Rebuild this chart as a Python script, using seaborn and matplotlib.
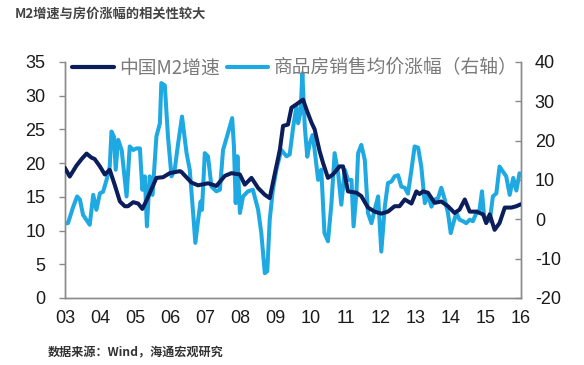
import matplotlib
matplotlib.use("Agg")
import matplotlib.pyplot as plt
import seaborn as sns
import pandas as pd
from matplotlib.lines import Line2D

# ---- data (decimal years) ----
m2_time = [2003.00, 2003.14, 2003.33, 2003.48, 2003.62, 2003.76, 2003.85, 2004.00, 2004.14, 2004.28,
           2004.42, 2004.57, 2004.71, 2004.80, 2004.95, 2005.09, 2005.21, 2005.34, 2005.61, 2005.80,
           2005.99, 2006.28, 2006.32, 2006.61, 2006.80, 2007.08, 2007.32, 2007.56, 2007.75, 2007.99,
           2008.13, 2008.32, 2008.51, 2008.70, 2008.84, 2008.98, 2009.13, 2009.22, 2009.36, 2009.46,
           2009.60, 2009.79, 2009.89, 2010.03, 2010.12, 2010.26, 2010.36, 2010.50, 2010.64, 2010.83,
           2010.93, 2011.07, 2011.31, 2011.45, 2011.64, 2011.83, 2012.02, 2012.21, 2012.40, 2012.54,
           2012.69, 2012.88, 2013.02, 2013.11, 2013.21, 2013.35, 2013.54, 2013.73, 2013.92, 2014.11,
           2014.25, 2014.40, 2014.54, 2014.73, 2014.92, 2015.01, 2015.11, 2015.25, 2015.39, 2015.54,
           2015.73, 2015.87, 2016.00]
m2_growth = [19.3, 18.0, 19.6, 20.6, 21.4, 20.8, 20.6, 19.5, 18.3, 19.0,
             16.8, 14.3, 13.6, 13.6, 14.2, 14.0, 13.2, 14.6, 17.8, 17.9,
             18.5, 18.8, 18.7, 17.1, 16.7, 17.0, 16.6, 18.1, 18.5, 18.3,
             16.8, 17.8, 16.3, 15.3, 14.8, 18.3, 22.0, 25.5, 25.7, 28.2,
             28.7, 29.4, 27.9, 26.0, 25.0, 21.8, 20.0, 17.8, 18.3, 19.5,
             19.5, 15.8, 15.6, 15.1, 13.4, 12.8, 12.5, 12.8, 13.6, 13.6,
             14.6, 14.0, 15.8, 15.4, 15.8, 15.6, 14.1, 14.3, 13.6, 12.6,
             13.1, 14.6, 12.8, 12.8, 12.4, 11.1, 12.4, 10.1, 11.1, 13.4,
             13.4, 13.6, 13.9]

hp_time = [2003.00, 2003.09, 2003.24, 2003.35, 2003.43, 2003.52, 2003.71, 2003.81, 2003.90, 2004.00,
           2004.09, 2004.19, 2004.28, 2004.33, 2004.40, 2004.45, 2004.52, 2004.62, 2004.68, 2004.76,
           2004.85, 2004.95, 2005.04, 2005.14, 2005.21, 2005.28, 2005.34, 2005.42, 2005.50, 2005.61,
           2005.71, 2005.75, 2005.85, 2005.94, 2006.04, 2006.13, 2006.23, 2006.34, 2006.47, 2006.56,
           2006.65, 2006.72, 2006.80, 2006.87, 2006.91, 2006.99, 2007.08, 2007.18, 2007.32, 2007.42,
           2007.51, 2007.65, 2007.77, 2007.82, 2007.87, 2007.92, 2007.99, 2008.08, 2008.22, 2008.36,
           2008.51, 2008.60, 2008.70, 2008.77, 2008.84, 2008.93, 2009.03, 2009.17, 2009.32, 2009.41,
           2009.51, 2009.60, 2009.65, 2009.72, 2009.77, 2009.84, 2009.91, 2009.98, 2010.06, 2010.12,
           2010.22, 2010.31, 2010.40, 2010.50, 2010.60, 2010.69, 2010.79, 2010.88, 2010.98, 2011.07,
           2011.17, 2011.23, 2011.31, 2011.36, 2011.45, 2011.55, 2011.64, 2011.74, 2011.83, 2011.93,
           2012.02, 2012.12, 2012.21, 2012.31, 2012.40, 2012.50, 2012.59, 2012.69, 2012.78, 2012.88,
           2012.97, 2013.07, 2013.16, 2013.26, 2013.35, 2013.45, 2013.54, 2013.64, 2013.73, 2013.83,
           2013.92, 2014.00, 2014.06, 2014.16, 2014.25, 2014.35, 2014.44, 2014.54, 2014.63, 2014.73,
           2014.82, 2014.89, 2014.95, 2015.01, 2015.11, 2015.20, 2015.30, 2015.39, 2015.48, 2015.58,
           2015.68, 2015.78, 2015.87, 2015.96]
hp_growth = [-1.0, -1.0, 3.2, 5.8, 5.0, 1.1, -1.4, 6.2, 2.4, 6.6,
             7.0, 10.0, 13.4, 22.3, 21.0, 12.6, 20.2, 17.6, 12.6, 5.8,
             18.5, 17.6, 18.0, 18.0, 7.5, 10.9, -1.8, 10.9, 6.2, 21.0,
             24.4, 34.6, 34.0, 21.0, 10.9, 12.5, 19.3, 26.1, 16.8, 12.6,
             2.4, -6.0, -0.1, 4.5, 2.4, 16.8, 16.0, 8.3, 7.1, 7.5,
             17.6, 21.9, 25.7, 18.5, 4.1, 16.0, 1.6, 5.8, 7.1, 7.5,
             2.4, -3.5, -13.7, -13.2, -0.1, 7.5, 12.6, 17.6, 16.0, 16.5,
             23.5, 28.6, 24.4, 27.4, 37.1, 23.5, 15.9, 19.3, 21.4, 17.6,
             10.0, 12.6, -3.5, -5.6, 4.1, 16.8, 11.7, 3.7, 12.6, 10.0,
             10.0, -1.8, 6.6, 16.8, 18.9, 15.1, 1.6, -1.0, 2.4, 5.8,
             -8.2, 3.2, 9.2, 9.6, 10.9, 11.2, 8.3, 8.0, 6.5, 12.6,
             18.5, 18.2, 13.4, 4.1, 6.2, 3.2, 5.0, 5.4, 8.0, 5.0,
             1.6, -3.5, -1.4, 1.6, -0.1, -0.5, -1.0, -0.1, -0.5, 1.6,
             2.4, 7.1, 0.8, 0.3, -0.5, 5.8, 6.6, 13.4, 12.2, 10.9,
             6.2, 10.5, 7.3, 11.7]

year_ticks = list(range(2003, 2017))
year_labels = ["03", "04", "05", "06", "07", "08", "09", "10", "11", "12", "13", "14", "15", "16"]
left_ticks = [0, 5, 10, 15, 20, 25, 30, 35]
right_ticks = [-20, -10, 0, 10, 20, 30, 40]

title_text = "M2增速与房价涨幅的相关性较大"
source_text = "数据来源：Wind，海通宏观研究"
m2_label = "中国M2增速"
hp_label = "商品房销售均价涨幅（右轴）"

# ---- styling ----
sns.set_theme(style="white")
plt.rcParams["font.family"] = ["Liberation Sans", "Noto Sans CJK SC", "DejaVu Sans"]
plt.rcParams["axes.unicode_minus"] = False

navy = "#0c1d5b"
light = "#1fa9e3"
spine_c = "#8a8a8a"

df_m2 = pd.DataFrame({"t": m2_time, "v": m2_growth})
df_hp = pd.DataFrame({"t": hp_time, "v": hp_growth})

fig = plt.figure(figsize=(5.84, 3.65), dpi=100)
ax = fig.add_axes([0.111, 0.1836, 0.781, 0.647])
ax2 = ax.twinx()

sns.lineplot(data=df_m2, x="t", y="v", ax=ax, color=navy, linewidth=2.9, zorder=3)
sns.lineplot(data=df_hp, x="t", y="v", ax=ax2, color=light, linewidth=2.9, zorder=2)
ax.set_zorder(ax2.get_zorder() + 1)
ax.patch.set_visible(False)

ax.set_xlim(2003, 2016)
ax.set_ylim(0, 35)
ax2.set_ylim(-20, 40)
ax.set_xticks(year_ticks)
ax.set_xticklabels(year_labels)
ax.set_yticks(left_ticks)
ax2.set_yticks(right_ticks)
ax.set_xlabel("")
ax.set_ylabel("")
ax2.set_ylabel("")

for a in (ax, ax2):
    for s in ("left", "right", "bottom"):
        a.spines[s].set_color(spine_c)
        a.spines[s].set_linewidth(1.0)
    a.spines["top"].set_visible(False)

ax.tick_params(axis="x", direction="out", length=4, width=1, color=spine_c,
               labelsize=13, labelcolor="#1a1a1a", pad=5)
ax.tick_params(axis="y", direction="out", length=4, width=1, color=spine_c,
               labelsize=13, labelcolor="#1a1a1a", pad=10)
ax2.tick_params(axis="y", direction="in", length=4, width=1, color=spine_c,
                labelsize=13, labelcolor="#1a1a1a", pad=10)

handles = [Line2D([0], [0], color=navy, lw=3.0), Line2D([0], [0], color=light, lw=3.0)]
leg = ax.legend(handles, [m2_label, hp_label], loc="upper left", bbox_to_anchor=(0.0, 1.05),
                ncol=2, frameon=False, handlelength=2.2, handletextpad=0.3,
                columnspacing=0.35, borderaxespad=0.0,
                prop={"family": ["Noto Sans CJK SC", "DejaVu Sans"], "size": 13.5})
for t in leg.get_texts():
    t.set_color("#7a7a7a")

fig.text(0.026, 0.962, title_text, ha="left", va="center", fontsize=9.5, fontweight="bold",
         color="#444444", family=["Noto Sans CJK SC", "DejaVu Sans"])
fig.text(0.082, 0.033, source_text, ha="left", va="center", fontsize=8.7, fontweight="bold",
         color="#333333", family=["Noto Sans CJK SC", "DejaVu Sans"])

fig.savefig("out.png", dpi=100)
